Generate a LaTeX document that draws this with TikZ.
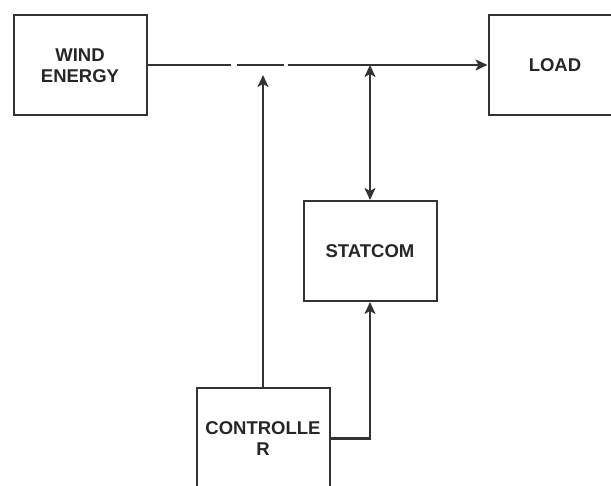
\documentclass[tikz,border=0pt]{standalone}
\usepackage{fontspec}
\setmainfont{Liberation Sans}
\usetikzlibrary{positioning,arrows.meta}
\tikzset{
    block/.style={draw=black!80, line width=2pt, minimum width=133pt,
        minimum height=100pt, align=center, inner sep=0pt,
        font=\fontsize{18.5}{21}\selectfont\bfseries, text=black!85},
    wire/.style={draw=black!80, line width=2.6pt},
    >={Stealth[length=12pt,width=11pt,inset=3pt]}
}

\begin{document}
\begin{tikzpicture}[x=1pt,y=-1pt]
\useasboundingbox (0,0) rectangle (611,486);
\clip (0,0) rectangle (611,486);

\node[block] (wind) at (80,65.5) {WIND\\ENERGY};
\node[block] (load) at (555,65.5) {LOAD};
\node[block] (statcom) at (370,251) {STATCOM};
\node[block] (controller) at (263,438.5) {CONTROLLE\\R};

% switch gaps on the line
\coordinate (gap1) at (230.5,65);
\coordinate (gap2) at (237,65);
\coordinate (gap3) at (283.5,65);
\coordinate (gap4) at (287.5,65);
\coordinate (tap) at (370,65);
\coordinate (switch) at (263,75);

\draw[wire] (wind.east |- gap1) -- (gap1);
\draw[wire] (gap2) -- (gap3);
\draw[wire,->] (gap4) -- (load.west |- gap4);

\draw[wire,->] (controller.north) -- (switch);
\draw[wire,<->] (tap) -- (statcom.north);
\draw[wire,->] (controller.east) -| (statcom.south);
\end{tikzpicture}
\end{document}
